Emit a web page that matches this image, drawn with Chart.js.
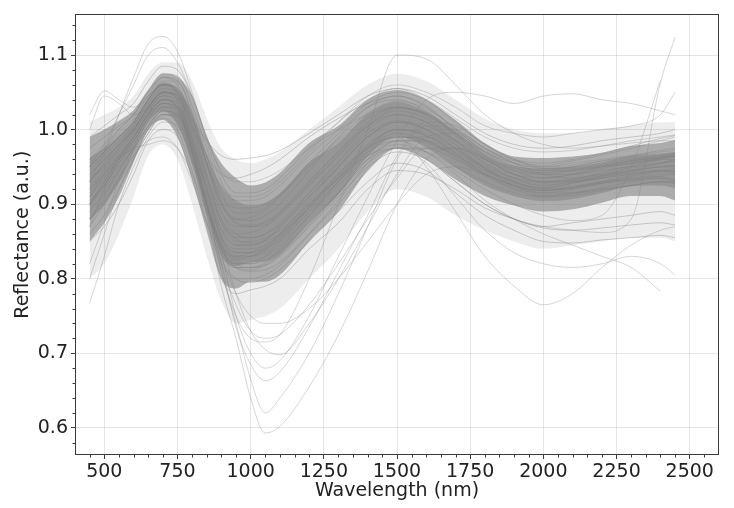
<!DOCTYPE html>
<html>
<head>
<meta charset="utf-8">
<script src="https://cdn.jsdelivr.net/npm/chart.js@4.4.1/dist/chart.umd.min.js"></script>
<style>
  html, body { margin: 0; padding: 0; background: #ffffff; }
  #wrap { width: 734px; height: 508px; }
</style>
</head>
<body>
<div id="wrap"><canvas id="chart" width="734" height="508"></canvas></div>
<script>
// Sampling wavelengths (nm)
const wavelengths = [450, 500, 550, 600, 650, 700, 750, 800, 850, 900, 950, 1000, 1050, 1100,
                     1200, 1300, 1400, 1500, 1600, 1700, 1800, 1900, 2000, 2100, 2200, 2300, 2400, 2450];

const xTickValues = [500, 750, 1000, 1250, 1500, 1750, 2000, 2250, 2500];
const yTickValues = [0.6, 0.7, 0.8, 0.9, 1.0, 1.1];

// Density envelopes of the sample population: outer spread, dense band, inner core
const outerUpper = [1.01, 1.02, 1.03, 1.045, 1.075, 1.09, 1.09, 1.065, 1.015, .975, .96, .955, .96, .97,
                    1.0, 1.03, 1.06, 1.075, 1.065, 1.04, 1.015, 1.0, .995, .995, 1.0, 1.005, 1.01, 1.01];
const outerLower = [.8, .82, .86, .91, .965, .98, .96, .9, .83, .77, .74, .745, .75, .76,
                    .8, .84, .89, .92, .91, .885, .865, .85, .84, .845, .85, .855, .855, .85];
const denseUpper = [.99, 1.0, 1.012, 1.026, 1.053, 1.075, 1.071, 1.045, .99, .955, .935, .925, .929, .942,
                    .982, 1.005, 1.04, 1.053, 1.04, 1.013, .982, .964, .962, .964, .969, .978, .982, .986];
const denseLower = [.85, .875, .91, .956, 1.0, 1.013, .99, .933, .866, .8, .787, .796, .796, .805,
                    .85, .89, .945, .975, .96, .933, .911, .898, .89, .893, .902, .911, .911, .905];
const innerUpper = [.962, .975, .992, 1.012, 1.042, 1.063, 1.055, 1.023, .965, .924, .905, .899, .902, .915,
                    .956, .982, 1.021, 1.037, 1.024, .997, .968, .951, .948, .95, .956, .965, .968, .97];
const innerLower = [.878, .9, .93, .97, 1.011, 1.025, 1.006, .955, .891, .831, .817, .822, .823, .832,
                    .876, .913, .964, .991, .976, .949, .925, .911, .904, .907, .915, .924, .925, .921];

// Individual reflectance spectra inside the main population
const typicalSpectra = [
  [.99, 1.005, 1.02, 1.035, 1.065, 1.085, 1.08, 1.045, .99, .94, .915, .915, .92, .935, .975, 1.01, 1.04, 1.055, 1.045, 1.02, .995, .98, .975, .978, .985, .99, .995, 1.0],
  [.85, .87, .9, .94, .985, 1.0, .99, .935, .865, .8, .78, .785, .79, .8, .84, .875, .92, .945, .94, .92, .895, .88, .87, .875, .88, .885, .89, .885],
  [.925, .945, .97, .995, 1.025, 1.045, 1.04, .99, .93, .875, .855, .855, .86, .875, .915, .955, .995, 1.012, 1.0, .975, .948, .93, .922, .928, .935, .943, .95, .95],
  [.9, .93, .96, .985, 1.015, 1.035, 1.03, .975, .905, .845, .825, .83, .84, .86, .905, .95, .99, 1.01, 1.0, .98, .955, .94, .935, .94, .95, .958, .965, .968],
  [.95, .97, .99, 1.01, 1.04, 1.06, 1.055, 1.01, .955, .9, .875, .87, .872, .885, .925, .965, 1.005, 1.025, 1.015, .985, .955, .935, .925, .93, .935, .94, .945, .94],
  [.88, .91, .945, .975, 1.005, 1.025, 1.015, .96, .89, .835, .815, .815, .822, .84, .885, .93, .975, 1.0, .992, .968, .94, .922, .915, .92, .928, .935, .94, .942],
  [.96, .975, .995, 1.015, 1.045, 1.07, 1.065, 1.025, .965, .905, .88, .878, .885, .9, .945, .99, 1.03, 1.045, 1.032, 1.0, .97, .952, .945, .95, .958, .965, .972, .975],
  [.915, .94, .965, .99, 1.02, 1.04, 1.035, .985, .92, .86, .84, .84, .845, .858, .895, .935, .975, .995, .985, .962, .938, .92, .91, .912, .918, .925, .93, .928],
  [.87, .9, .935, .97, 1.005, 1.03, 1.03, .985, .92, .855, .825, .82, .825, .838, .875, .915, .96, .985, .982, .965, .945, .932, .925, .93, .937, .945, .955, .96],
  [.94, .96, .98, 1.0, 1.03, 1.05, 1.045, .995, .935, .88, .86, .862, .87, .888, .93, .97, 1.01, 1.03, 1.02, .992, .962, .94, .93, .932, .938, .942, .945, .943],
  [.905, .925, .955, .985, 1.015, 1.035, 1.025, .97, .9, .84, .815, .81, .812, .822, .86, .9, .945, .975, .975, .96, .94, .925, .918, .922, .93, .938, .945, .948],
  [.93, .955, .98, 1.005, 1.04, 1.065, 1.065, 1.02, .955, .89, .86, .855, .86, .872, .91, .95, .99, 1.01, 1.005, .985, .962, .948, .942, .946, .952, .958, .963, .965],
  [.89, .915, .945, .975, 1.0, 1.015, 1.0, .945, .875, .82, .8, .8, .805, .818, .86, .905, .955, .985, .985, .968, .945, .928, .92, .924, .93, .934, .937, .933],
  [.945, .965, .985, 1.005, 1.035, 1.055, 1.05, 1.005, .95, .9, .88, .882, .892, .91, .955, .995, 1.03, 1.04, 1.025, .995, .965, .945, .935, .94, .948, .955, .962, .965],
  [.86, .885, .92, .96, 1.0, 1.025, 1.02, .97, .9, .84, .815, .812, .818, .832, .872, .915, .96, .99, .99, .972, .948, .93, .92, .922, .928, .932, .935, .93],
  [.975, .99, 1.005, 1.02, 1.05, 1.07, 1.06, 1.015, .955, .9, .875, .872, .876, .888, .925, .965, 1.005, 1.028, 1.022, .998, .972, .958, .952, .958, .966, .975, .985, .99],
  [.91, .935, .962, .99, 1.022, 1.048, 1.048, 1.003, .94, .88, .853, .848, .85, .86, .895, .935, .978, 1.0, .995, .975, .952, .935, .928, .933, .942, .952, .962, .968],
  [.935, .95, .975, .998, 1.028, 1.05, 1.042, .99, .925, .868, .845, .845, .852, .87, .915, .958, 1.0, 1.02, 1.01, .98, .948, .925, .912, .915, .922, .93, .935, .932],
  [.88, .9, .93, .962, .995, 1.02, 1.015, .965, .9, .845, .828, .83, .838, .855, .898, .94, .98, 1.0, .992, .97, .948, .93, .922, .928, .938, .95, .96, .965],
  [.955, .975, 1.0, 1.02, 1.052, 1.075, 1.072, 1.032, .975, .915, .888, .888, .895, .912, .952, .988, 1.022, 1.038, 1.028, 1.002, .975, .96, .955, .96, .968, .978, .988, .992],
  [.88, .905, .935, .965, 1.0, 1.02, 1.01, .955, .885, .825, .8, .795, .8, .812, .85, .89, .93, .955, .945, .915, .885, .865, .85, .848, .852, .855, .858, .855],
  [.9, .92, .95, .975, 1.005, 1.025, 1.02, .97, .905, .845, .82, .815, .818, .83, .87, .91, .95, .97, .96, .93, .9, .88, .868, .865, .868, .872, .875, .872],
  [.96, .98, 1.0, 1.02, 1.045, 1.06, 1.05, 1.015, .985, .965, .96, .962, .965, .972, .995, 1.02, 1.045, 1.055, 1.04, 1.01, .98, .96, .95, .952, .958, .962, .965, .968],
  [.94, .96, .98, 1.0, 1.03, 1.05, 1.045, 1.005, .965, .94, .935, .94, .948, .96, .99, 1.015, 1.035, 1.045, 1.03, 1.0, .97, .95, .94, .94, .945, .95, .955, .958]
];

// Spectra lying away from the main population
const outlierSpectra = [
  [.93, .97, 1.02, 1.07, 1.115, 1.125, 1.105, 1.05, .985, .93, .905, .905, .91, .925, .965, 1.0, 1.035, 1.05, 1.04, 1.015, .99, .975, .97, .972, .978, .985, .99, .993],
  [.95, .98, 1.02, 1.06, 1.1, 1.11, 1.09, 1.045, .99, .945, .93, .93, .935, .945, .975, 1.0, 1.02, 1.03, 1.02, .995, .97, .955, .95, .955, .96, .965, .97, .972],
  [1.02, 1.052, 1.04, 1.03, 1.045, 1.06, 1.05, 1.0, .94, .89, .87, .87, .875, .89, .93, .97, 1.005, 1.02, 1.01, .985, .96, .945, .94, .945, .95, .955, .96, .962],
  [1.0, 1.045, 1.035, 1.02, 1.03, 1.05, 1.05, 1.01, .955, .91, .895, .895, .9, .912, .95, .985, 1.015, 1.03, 1.02, .995, .97, .955, .948, .95, .955, .96, .963, .965],
  [.87, .92, .96, .975, .98, .985, .975, .94, .89, .845, .83, .835, .845, .86, .9, .94, .975, .99, .985, .965, .942, .925, .918, .922, .928, .933, .938, .94],
  [.82, .875, .93, .965, .985, .99, .975, .93, .875, .83, .815, .815, .82, .835, .875, .915, .955, .975, .97, .95, .93, .915, .91, .915, .92, .925, .93, .93],
  [.767, .83, .9, .95, .99, 1.01, 1.005, .96, .9, .85, .83, .83, .835, .85, .89, .93, .97, .99, .985, .965, .94, .925, .918, .922, .93, .937, .943, .945],
  [.8, .86, .92, .96, .995, 1.02, 1.02, .98, .92, .865, .845, .845, .852, .868, .91, .95, .99, 1.01, 1.0, .975, .95, .935, .93, .935, .94, .948, .955, .958],
  [.9, .93, .96, .99, 1.02, 1.04, 1.03, .97, .885, .79, .72, .64, .593, .602, .655, .725, .81, .9, .96, .975, .96, .94, .93, .93, .935, .94, .945, .945],
  [.92, .945, .97, .995, 1.025, 1.045, 1.035, .98, .9, .81, .74, .665, .62, .64, .7, .78, .87, .96, 1.005, 1.0, .975, .955, .945, .945, .95, .955, .96, .96],
  [.91, .94, .965, .99, 1.02, 1.04, 1.03, .975, .9, .82, .735, .685, .663, .675, .735, .81, .885, .965, 1.01, 1.005, .98, .96, .948, .948, .952, .958, .962, .965],
  [.93, .95, .975, 1.0, 1.03, 1.05, 1.04, .985, .91, .835, .75, .7, .68, .69, .75, .83, .91, .985, 1.04, 1.05, 1.045, 1.035, 1.045, 1.048, 1.04, 1.035, 1.025, 1.02],
  [.95, .97, .99, 1.01, 1.04, 1.06, 1.05, .99, .92, .85, .78, .73, .705, .698, .74, .8, .87, .94, .99, .995, .975, .955, .94, .935, .94, .945, .95, .952],
  [.92, .94, .965, .99, 1.02, 1.04, 1.03, .97, .89, .81, .75, .72, .715, .725, .8, .9, 1.0, 1.1, 1.095, 1.06, 1.02, .995, .98, .975, .978, .982, .985, .985],
  [.93, .955, .98, 1.0, 1.03, 1.05, 1.04, .98, .9, .83, .78, .75, .74, .74, .76, .8, .85, .9, .94, .95, .94, .925, .915, .915, .92, .925, .93, .93],
  [.92, .94, .965, .99, 1.02, 1.04, 1.03, .975, .895, .82, .765, .73, .72, .725, .765, .82, .88, .935, .975, .975, .96, .94, .93, .932, .938, .945, .95, .952],
  [.9, .93, .96, .985, 1.015, 1.035, 1.025, .97, .9, .84, .82, .82, .83, .85, .895, .94, .975, .99, .95, .89, .83, .79, .765, .78, .815, .845, .865, .87],
  [.9, .925, .955, .98, 1.01, 1.03, 1.02, .965, .895, .84, .82, .822, .83, .845, .885, .925, .96, .975, .955, .91, .865, .835, .82, .815, .82, .83, .82, .805],
  [.91, .935, .96, .985, 1.015, 1.035, 1.03, .98, .915, .855, .835, .835, .842, .855, .895, .935, .97, .985, .97, .94, .905, .88, .86, .845, .83, .815, .783, null],
  [.93, .95, .975, 1.0, 1.03, 1.05, 1.045, 1.0, .935, .875, .85, .85, .855, .865, .9, .935, .965, .975, .96, .93, .9, .88, .87, .865, .862, .88, 1.063, 1.124],
  [.9, .925, .955, .98, 1.01, 1.03, 1.025, .975, .91, .855, .835, .835, .84, .852, .89, .93, .965, .98, .97, .945, .92, .9, .885, .878, .885, .95, 1.066, null],
  [.95, .97, .99, 1.01, 1.04, 1.06, 1.055, 1.015, .965, .925, .91, .91, .915, .93, .97, 1.01, 1.045, 1.06, 1.05, 1.03, 1.005, .995, .99, .995, 1.0, 1.005, 1.02, 1.05]
];

const toPoints = values => wavelengths.map((w, i) => ({ x: w, y: values[i] }));

const GRAY = '128,128,128';
const band = (lower, upper, alpha, order) => [
  { data: toPoints(lower), borderColor: 'transparent', borderWidth: 0, fill: false, order },
  { data: toPoints(upper), borderColor: 'transparent', borderWidth: 0, fill: '-1',
    backgroundColor: `rgba(${GRAY},${alpha})`, order }
];
const datasets = [
  ...band(outerLower, outerUpper, 0.14, 12),
  ...band(denseLower, denseUpper, 0.6, 11),
  ...band(innerLower, innerUpper, 0.5, 10)
];
typicalSpectra.forEach(s => datasets.push({
  data: toPoints(s), borderColor: `rgba(${GRAY},0.38)`, borderWidth: 1, fill: false, order: 1
}));
outlierSpectra.forEach(s => datasets.push({
  data: toPoints(s), borderColor: `rgba(${GRAY},0.32)`, borderWidth: 1, fill: false, order: 1
}));

// Closed axes frame plus minor tick marks
const framePlugin = {
  id: 'frame',
  afterDraw(chart) {
    const { ctx, chartArea: a, scales: { x, y } } = chart;
    ctx.save();
    ctx.strokeStyle = '#3a3a3a';
    ctx.lineWidth = 1;
    ctx.strokeRect(Math.round(a.left) + 0.5, Math.round(a.top) + 0.5,
                   Math.round(a.right - a.left) - 1, Math.round(a.bottom - a.top) - 1);
    ctx.beginPath();
    for (let v = 450; v <= 2550; v += 50) {
      if (v % 250 === 0) continue;
      const px = Math.round(x.getPixelForValue(v)) + 0.5;
      ctx.moveTo(px, a.bottom);
      ctx.lineTo(px, a.bottom + 2.5);
    }
    for (let k = 58; k <= 114; k += 2) {
      if (k % 10 === 0) continue;
      const py = Math.round(y.getPixelForValue(k / 100)) + 0.5;
      ctx.moveTo(a.left, py);
      ctx.lineTo(a.left - 2.5, py);
    }
    ctx.stroke();
    ctx.restore();
  }
};

const FONT = { family: "'DejaVu Sans', sans-serif", size: 19 };

new Chart(document.getElementById('chart'), {
  type: 'line',
  data: { datasets },
  plugins: [framePlugin],
  options: {
    responsive: false,
    animation: false,
    events: [],
    layout: { padding: { left: 0, top: 10, right: 15, bottom: 0 } },
    elements: {
      point: { radius: 0 },
      line: { cubicInterpolationMode: 'monotone' }
    },
    plugins: { legend: { display: false }, tooltip: { enabled: false } },
    scales: {
      x: {
        type: 'linear',
        min: 400, max: 2600,
        afterBuildTicks: s => { s.ticks = xTickValues.map(v => ({ value: v })); },
        afterFit: s => { s.height = 53; },
        ticks: { font: FONT, color: '#222', padding: 2, maxRotation: 0, autoSkip: false,
                 callback: v => String(v) },
        grid: { color: 'rgba(0,0,0,0.1)', lineWidth: 1, drawTicks: true, tickLength: 4,
                tickColor: '#3a3a3a', tickWidth: 1 },
        border: { display: false },
        title: { display: true, text: 'Wavelength (nm)', font: FONT, color: '#222',
                 padding: { top: 0, bottom: 6 } }
      },
      y: {
        type: 'linear',
        min: 0.5635, max: 1.1545,
        afterBuildTicks: s => { s.ticks = yTickValues.map(v => ({ value: v })); },
        afterFit: s => { s.width = 75; },
        ticks: { font: FONT, color: '#222', padding: 3, autoSkip: false,
                 callback: v => v.toFixed(1) },
        grid: { color: 'rgba(0,0,0,0.1)', lineWidth: 1, drawTicks: true, tickLength: 4,
                tickColor: '#3a3a3a', tickWidth: 1 },
        border: { display: false },
        title: { display: true, text: 'Reflectance (a.u.)', font: FONT, color: '#222',
                 padding: { top: 12, bottom: 0 } }
      }
    }
  }
});
</script>
</body>
</html>
